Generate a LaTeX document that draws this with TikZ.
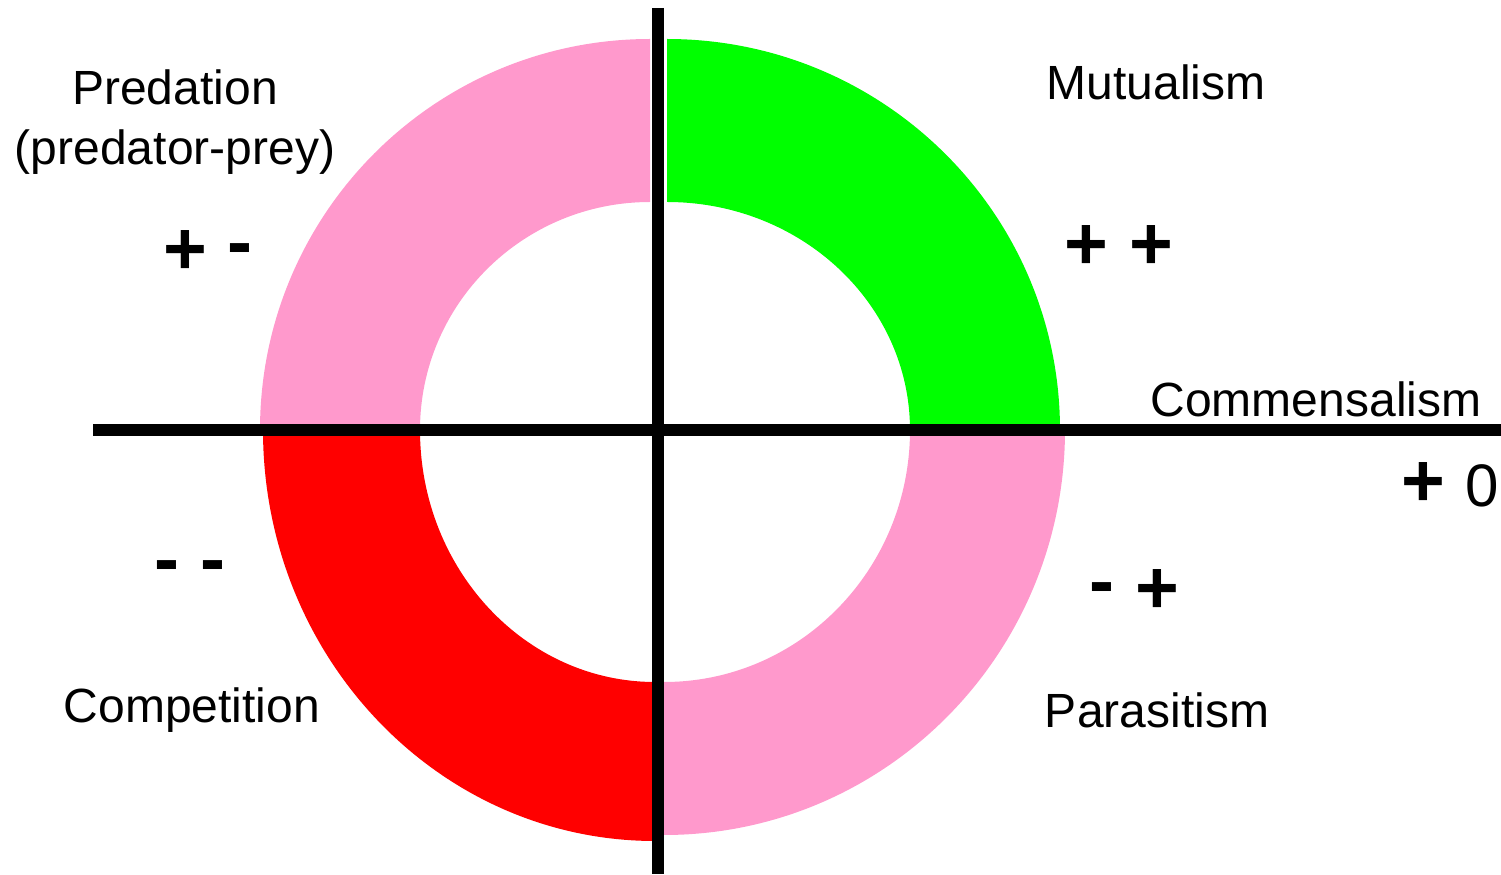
\documentclass[tikz,border=0pt]{standalone}
\usepackage{fontspec}
\setmainfont{Liberation Sans}
\definecolor{pinkq}{RGB}{255,153,204}
\definecolor{greenq}{RGB}{0,255,0}
\definecolor{redq}{RGB}{255,0,0}
\tikzset{
  axisline/.style={line width=6pt, black, line cap=butt},
  lbl/.style={font=\fontsize{24}{30}\selectfont, anchor=base, inner sep=0pt, align=center},
  sgn/.style={font=\fontsize{37.5}{45}\selectfont\bfseries, anchor=base, inner sep=0pt},
}
\newcommand{\hy}{\raisebox{0.1em}{-}}
\begin{document}
\begin{tikzpicture}[x=0.5pt,y=0.5pt]
\useasboundingbox (0,0) rectangle (1501,874);
% quadrants
\fill[pinkq] (260,444) arc[start angle=180, end angle=90, x radius=195pt, y radius=195.5pt]
  -- (650,672) arc[start angle=90, end angle=180, x radius=115pt, y radius=114pt] -- cycle;
\fill[greenq] (667,835) arc[start angle=90, end angle=0, x radius=196.5pt, y radius=195.5pt]
  -- (910,444) arc[start angle=0, end angle=90, x radius=121.5pt, y radius=114pt] -- cycle;
\fill[pinkq] (1065,444) arc[start angle=0, end angle=-90, x radius=200.5pt, y radius=202.5pt]
  -- (664,192) arc[start angle=-90, end angle=0, x radius=123pt, y radius=126pt] -- cycle;
\fill[redq] (655,33) arc[start angle=-90, end angle=-180, x radius=196pt, y radius=205.5pt]
  -- (420,444) arc[start angle=180, end angle=270, x radius=117.5pt, y radius=126pt] -- cycle;
% axes
\coordinate (vtop) at (658,866);
\coordinate (vbot) at (658,0);
\coordinate (hleft) at (93,444);
\coordinate (hright) at (1501,444);
\draw[axisline] (vtop) -- (vbot);
\draw[axisline] (hleft) -- (hright);
% labels
\node[lbl] (pred) at (175,709) {Predation\\(predator-prey)};
\node[lbl] (mut) at (1156,774) {Mutualism};
\node[lbl] (comm) at (1316,457) {Commensalism};
\node[lbl] (compet) at (192,151) {Competition};
\node[lbl] (para) at (1157,147) {Parasitism};
% signs
\node[sgn] (spm) at (208,599) {+ \hy};
\node[sgn] (spp) at (1119,604) {+ +};
\node[sgn] (smm) at (190,282) {\hy{} \hy};
\node[sgn] (smp) at (1134,260) {\hy{} +};
\node[sgn] (spz) at (1450,367) {+ {\mdseries\fontsize{30}{36}\selectfont 0}};
\end{tikzpicture}
\end{document}
